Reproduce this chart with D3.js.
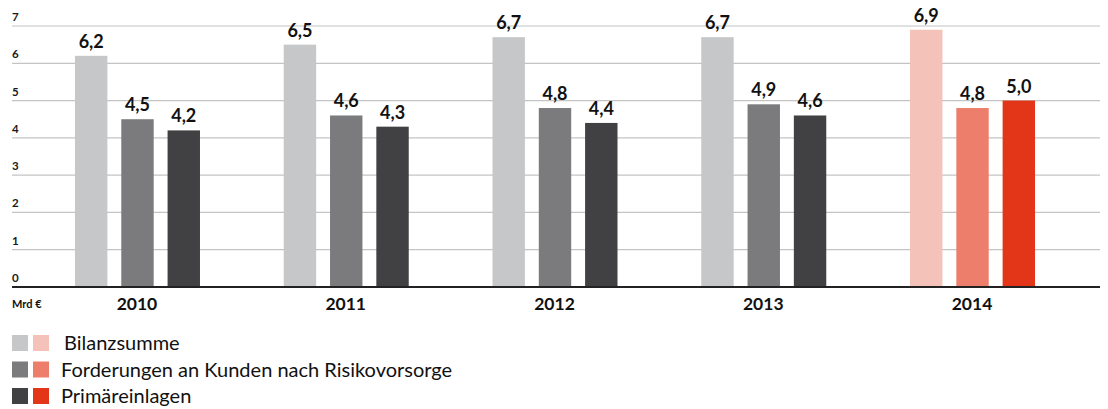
<!DOCTYPE html>
<html>
<head>
<meta charset="utf-8">
<script src="https://cdn.jsdelivr.net/npm/d3@7"></script>
<style>
  html, body { margin: 0; padding: 0; background: #fff; }
  svg { display: block; font-family: Lato, "Open Sans", sans-serif; }
</style>
</head>
<body>
<svg id="chart" width="1108" height="409"></svg>
<script>
  const years = ['2010', '2011', '2012', '2013', '2014'];
  const series = ['Bilanzsumme', 'Forderungen an Kunden nach Risikovorsorge', 'Primäreinlagen'];
  const bilanzsumme = [6.2, 6.5, 6.7, 6.7, 6.9];
  const forderungen = [4.5, 4.6, 4.8, 4.9, 4.8];
  const primaereinlagen = [4.2, 4.3, 4.4, 4.6, 5.0];
  const yTicks = [0, 1, 2, 3, 4, 5, 6, 7];
  const unitLabel = 'Mrd €';

  const greys = ['#c6c7c9', '#7b7b7d', '#414143'];
  const reds = ['#f5c2b9', '#ee7e6c', '#e33619'];

  const values = [bilanzsumme, forderungen, primaereinlagen];
  const rows = [];
  years.forEach((yr, i) => {
    series.forEach((s, j) => rows.push({ year: yr, series: s, si: j, value: values[j][i], hl: yr === '2014' }));
  });

  const svg = d3.select('#chart');
  const left = 12, right = 1100;

  const y = d3.scaleLinear().domain([0, 7]).range([287, 26]);
  const x = d3.scaleBand().domain(years).range([32.6, 1076.4]).padding(0);
  const xs = d3.scaleBand().domain(series).range([-62, 63]).paddingInner(0.3).paddingOuter(0);

  // grid lines
  svg.append('g')
    .selectAll('line')
    .data(yTicks.filter(t => t > 0))
    .enter().append('line')
    .attr('x1', left).attr('x2', right)
    .attr('y1', d => y(d)).attr('y2', d => y(d))
    .attr('stroke', '#c4c4c4').attr('stroke-width', 1.2);

  // y tick labels (above the lines)
  svg.append('g')
    .selectAll('text')
    .data(yTicks)
    .enter().append('text')
    .attr('x', left)
    .attr('y', d => y(d) - 5)
    .attr('font-size', 11.5).attr('font-weight', 700).attr('fill', '#1a1a1a')
    .text(d => d);

  // bars
  const cx = d => x(d.year) + x.bandwidth() / 2 + xs(d.series);
  svg.append('g')
    .selectAll('rect')
    .data(rows)
    .enter().append('rect')
    .attr('x', d => cx(d))
    .attr('y', d => y(d.value))
    .attr('width', xs.bandwidth())
    .attr('height', d => y(0) - y(d.value))
    .attr('fill', d => (d.hl ? reds : greys)[d.si]);

  // value labels
  svg.append('g')
    .selectAll('text')
    .data(rows)
    .enter().append('text')
    .attr('x', d => cx(d) + xs.bandwidth() / 2)
    .attr('y', d => y(d.value) - 8)
    .attr('text-anchor', 'middle')
    .attr('font-size', 18).attr('font-weight', 700).attr('fill', '#111')
    .text(d => d3.format('.1f')(d.value).replace('.', ','));

  // baseline
  svg.append('line')
    .attr('x1', left).attr('x2', right)
    .attr('y1', y(0)).attr('y2', y(0))
    .attr('stroke', '#222').attr('stroke-width', 2);

  // x axis labels
  svg.append('g')
    .selectAll('text')
    .data(years)
    .enter().append('text')
    .attr('x', d => x(d) + x.bandwidth() / 2)
    .attr('y', 310)
    .attr('text-anchor', 'middle')
    .attr('font-size', 17.5).attr('font-weight', 700).attr('fill', '#111')
    .text(d => d);

  svg.append('text')
    .attr('x', left).attr('y', 308)
    .attr('font-size', 11).attr('font-weight', 700).attr('fill', '#111')
    .text(unitLabel);

  // legend
  const legend = svg.append('g')
    .selectAll('g')
    .data(series)
    .enter().append('g')
    .attr('transform', (d, i) => `translate(${left},${335 + i * 26.5})`);
  legend.append('rect').attr('width', 16).attr('height', 16).attr('fill', (d, i) => greys[i]);
  legend.append('rect').attr('x', 21).attr('width', 16).attr('height', 16).attr('fill', (d, i) => reds[i]);
  legend.append('text')
    .attr('x', (d, i) => i === 0 ? 52 : 49)
    .attr('y', 15)
    .attr('font-size', 20).attr('fill', '#111')
    .text(d => d);
</script>
</body>
</html>
